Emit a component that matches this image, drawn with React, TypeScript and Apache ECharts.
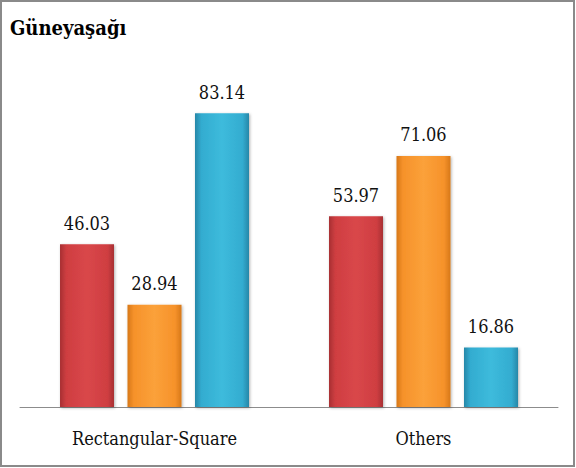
import React, { useEffect, useRef } from "react";
import * as echarts from "echarts";

const categories = ["Rectangular-Square", "Others"];
const seriesA = [46.03, 53.97];
const seriesB = [28.94, 71.06];
const seriesC = [83.14, 16.86];
const titleText = "Güneyaşağı";

const FONT = "DejaVu Serif Condensed";

function barColor(light: string, mid: string, dark: string) {
  return new echarts.graphic.LinearGradient(0, 0, 1, 0, [
    { offset: 0, color: dark },
    { offset: 0.12, color: mid },
    { offset: 0.5, color: light },
    { offset: 0.88, color: mid },
    { offset: 1, color: dark },
  ]);
}

export default function App() {
  const ref = useRef<HTMLDivElement>(null);
  useEffect(() => {
    const chart = echarts.init(ref.current!, null, { renderer: "svg" });
    const label = {
      show: true,
      position: "top" as const,
      distance: 12,
      fontFamily: FONT,
      fontSize: 18,
      color: "#111",
      formatter: (p: any) => p.value.toFixed(2),
    };
    const mk = (name: string, data: number[], light: string, mid: string, dark: string) => ({
      name,
      type: "bar" as const,
      data,
      barWidth: 54,
      barGap: "25%",
      label,
      itemStyle: {
        color: barColor(light, mid, dark),
        shadowColor: "rgba(0,0,0,0.3)",
        shadowBlur: 3,
        shadowOffsetX: 1,
        shadowOffsetY: 1,
      },
    });
    chart.setOption({
      animation: false,
      backgroundColor: "#fff",
      title: {
        text: titleText,
        left: 5,
        top: 13,
        textStyle: { fontFamily: FONT, fontWeight: "bold", fontSize: 20, color: "#000" },
      },
      graphic: [
        {
          type: "rect",
          shape: { x: 1, y: 1, width: 573, height: 465 },
          style: { fill: "none", stroke: "#8a8a8a", lineWidth: 2 },
          silent: true,
        },
      ],
      grid: { left: 20, right: 18, top: 89, bottom: 61 },
      xAxis: {
        type: "category",
        data: categories,
        axisTick: { show: false },
        axisLine: { lineStyle: { color: "#8c8c8c", width: 1 } },
        axisLabel: { fontFamily: FONT, fontSize: 18, color: "#111", margin: 22 },
      },
      yAxis: {
        type: "value",
        min: 0,
        max: 90,
        show: false,
        splitLine: { show: false },
      },
      series: [
        mk("A", seriesA, "#d9474a", "#cf3e41", "#a83033"),
        mk("B", seriesB, "#fba13a", "#f6922a", "#d7781a"),
        mk("C", seriesC, "#3dbbdc", "#33acd0", "#2787a8"),
      ],
    });
    return () => chart.dispose();
  }, []);
  return (
    <div
      ref={ref}
      style={{ position: "absolute", left: 0, top: 0, width: 576, height: 468 }}
    />
  );
}
